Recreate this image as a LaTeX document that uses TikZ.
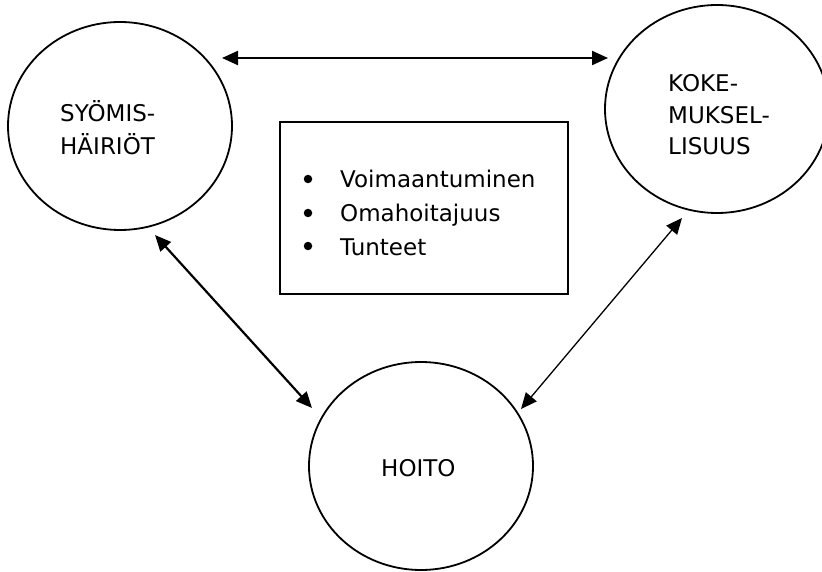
\documentclass[tikz,border=0pt]{standalone}
\usepackage{fontspec}
\setmainfont{DejaVu Sans}
\usetikzlibrary{arrows.meta,shapes.geometric}
\begin{document}
\begin{tikzpicture}[x=1pt,y=-1pt,
  oval/.style={draw,ellipse,line width=1.8pt,minimum width=224pt,minimum height=208pt,inner sep=0pt},
  txt/.style={anchor=base west,inner sep=0pt,font=\fontsize{23}{33}\selectfont},
  tip/.tip={Triangle[length=16pt,width=14pt]},
  conn/.style={tip-tip,line width=2.2pt},
  thinconn/.style={tip-tip,line width=1.3pt},
  bullet/.style={circle,fill,inner sep=0pt,minimum size=8.5pt}]
\useasboundingbox (0,0) rectangle (822,572);
\clip (0,0) rectangle (822,572);
\node[oval] (sy) at (120,126) {};
\node[oval] (ko) at (717,109) {};
\node[oval] (ho) at (421,466) {};
\node[draw,line width=1.8pt,minimum width=288pt,minimum height=172pt,inner sep=0pt] (box) at (424,208) {};
% labels
\node[txt] (sy1) at (60,122) {SYÖMIS-};
\node[txt] (sy2) at (60,155) {HÄIRIÖT};
\node[txt] (ko1) at (668,92) {KOKE-};
\node[txt] (ko2) at (668,124) {MUKSEL-};
\node[txt] (ko3) at (668,155) {LISUUS};
\node[txt] (ho1) at (381,476) {HOITO};
% list
\node[bullet] (b1) at (308,179) {};
\node[bullet] (b2) at (308,213) {};
\node[bullet] (b3) at (308,246) {};
\node[txt] (l1) at (340,188) {Voimaantuminen};
\node[txt] (l2) at (340,222) {Omahoitajuus};
\node[txt] (l3) at (340,255) {Tunteet};
% connector ends
\coordinate (t1) at (222,58);
\coordinate (t2) at (608,58);
\coordinate (d1) at (155,235);
\coordinate (d2) at (312,408);
\coordinate (e1) at (682,218);
\coordinate (e2) at (521,409);
\draw[conn] (t1) -- (t2);
\draw[conn] (d1) -- (d2);
\draw[thinconn] (e1) -- (e2);
\end{tikzpicture}
\end{document}
